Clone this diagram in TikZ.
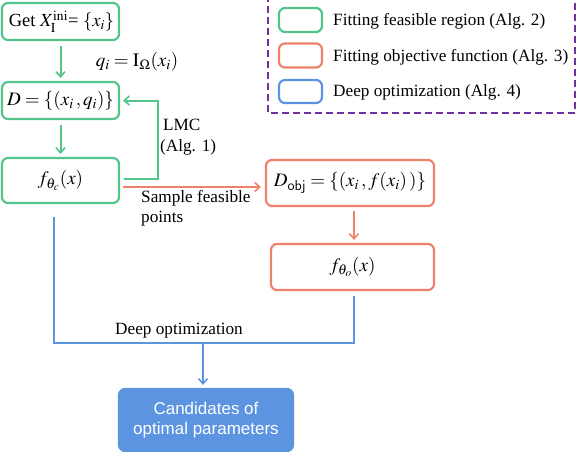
\documentclass[tikz,border=0pt]{standalone}
\usepackage{mathptmx}
\usepackage{fontspec}
\setmainfont{Liberation Serif}
\setsansfont{Liberation Sans}
\usetikzlibrary{arrows.meta}
\definecolor{cgreen}{RGB}{82,196,140}
\definecolor{corange}{RGB}{238,128,108}
\definecolor{cblue}{RGB}{92,148,226}
\definecolor{cpurple}{RGB}{112,48,160}
\begin{document}
\begin{tikzpicture}[x=1pt,y=-1pt,
  font=\fontsize{17.2}{20}\selectfont,
  mfont/.style={font=\fontsize{19}{22}\selectfont},
  box/.style={draw,line width=2.2pt,rounded corners=6pt,inner sep=0pt,align=center},
  gbox/.style={box,draw=cgreen,mfont},
  obox/.style={box,draw=corange,mfont},
  tip/.style={-{Straight Barb[length=5pt,width=9pt,line width=1.6pt]}},
  gline/.style={draw=cgreen,line width=2pt},
  oline/.style={draw=corange,line width=2pt},
  bline/.style={draw=cblue,line width=2pt},
  lbl/.style={inner sep=0pt,align=left}]
\useasboundingbox (0,0) rectangle (578,452);
% legend
\draw[cpurple,dashed,line width=1.3pt,dash pattern=on 7pt off 4pt] (268,-5) rectangle (575,113);
\node[gbox,minimum width=43pt,minimum height=24pt] (lg) at (300.5,20) {};
\node[obox,minimum width=43pt,minimum height=24pt] (lo) at (300.5,55.5) {};
\node[box,draw=cblue,minimum width=43pt,minimum height=23pt] (lb) at (300.5,91.5) {};
\node[lbl,anchor=west] (tg) at (333,21) {Fitting feasible region (Alg. 2)};
\node[lbl,anchor=west] (to) at (333,57) {Fitting objective function (Alg. 3)};
\node[lbl,anchor=west] (tb) at (333,92) {Deep optimization (Alg. 4)};
% green part
\node[gbox,minimum width=117pt,minimum height=37pt,font=\fontsize{18.5}{22}\selectfont] (b1) at (60.5,21.5) {\hspace*{2pt}Get $X_{\mathrm{I}}^{\mathrm{ini}}$= $\{x_i\}$};
\node[gbox,minimum width=117pt,minimum height=37pt] (b2) at (60.5,100.5) {$D=\{(x_i\,,q_i)\}$};
\node[gbox,minimum width=117pt,minimum height=45pt] (b3) at (60.5,180.5) {$f_{\theta_c}(x)$};
\node[lbl,mfont] (lq) at (137,62) {$q_i=\mathrm{I}_{\Omega}(x_i)$};
\draw[gline,tip] ([yshift=-5pt]b1.south) -- ([yshift=3pt]b2.north);
\draw[gline,tip] ([yshift=-5pt]b2.south) -- ([yshift=3pt]b3.north);
\draw[gline,tip] ([xshift=4pt,yshift=1.5pt]b3.east) -| ([xshift=38pt]b2.east) -- ([xshift=3pt]b2.east);
\node[lbl,anchor=west] (lmc) at (160,125) {\,LMC};
\node[lbl,anchor=west] (alg1) at (160,147) {(Alg. 1)};
% orange part
\node[obox,minimum width=168pt,minimum height=46pt] (b4) at (350,183) {$D_{\mathsf{obj}}=\{(x_i\,,f(x_i)\,)\}$};
\node[obox,minimum width=163pt,minimum height=46pt] (b5) at (352.5,267) {$f_{\theta_o}(x)$};
\draw[oline,tip] ([xshift=3pt,yshift=-6.5pt]b3.east) -- ([xshift=-4pt,yshift=-4pt]b4.west);
\node[lbl,anchor=north west] (ls) at (141,190) {Sample feasible\\points};
\draw[oline,tip] ([xshift=4pt,yshift=-4pt]b4.south) -- ([xshift=1.5pt,yshift=3pt]b5.north);
% blue part
\coordinate (jn) at (203,343);
\draw[bline] ([xshift=1.5pt,yshift=-5pt]b5.south) |- ([xshift=-6.5pt]b3.south |- jn) -- ([xshift=-6.5pt,yshift=-13pt]b3.south);
\node[box,draw=cblue,fill=cblue,text=white,minimum width=174pt,minimum height=62pt,font=\sffamily\fontsize{17}{20}\selectfont] (b6) at (206,420) {Candidates of\\optimal parameters};
\draw[bline,tip] (jn) -- ([yshift=3pt]b6.north -| jn);
\node[lbl] (ld) at (179,331) {Deep optimization};
\end{tikzpicture}
\end{document}
